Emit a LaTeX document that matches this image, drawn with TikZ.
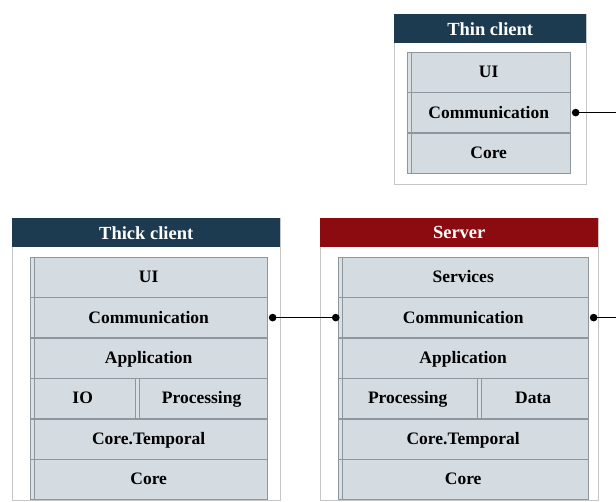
\documentclass[tikz,border=0pt]{standalone}
\usepackage{xcolor}
\usepackage{fontspec}
\setmainfont{Liberation Serif}
\usepackage{tikz}
\usetikzlibrary{positioning, arrows.meta}

\definecolor{headblue}{HTML}{1C3B50}
\definecolor{headred}{HTML}{8C0B10}
\definecolor{layerfill}{HTML}{D4DCE2}
\definecolor{layerline}{HTML}{8E979D}
\definecolor{panelline}{HTML}{C6C6C6}

\begin{document}
\begin{tikzpicture}[
   x=1pt, y=-1pt,
   node distance = 0pt,
   panel/.style = {draw=panelline, fill=white, rectangle, anchor=north west, inner sep=0pt},
   header/.style = {fill=#1, rectangle, anchor=north west, inner sep=0pt, minimum height=29pt, text=white, font=\fontsize{18.5}{22}\selectfont\bfseries},
   layer/.style = {draw=layerline, fill=layerfill, rectangle, inner sep=0pt, minimum height=40pt, text height=11pt, text depth=0pt, font=\fontsize{17.5}{20}\selectfont\bfseries,
      path picture={\fill[layerline!30] (path picture bounding box.north west) rectangle ([xshift=3.5pt]path picture bounding box.south west);
                    \draw[layerline] ([xshift=3.5pt]path picture bounding box.north west) -- ([xshift=3.5pt]path picture bounding box.south west);}},
   line/.style = {draw, line width=1.7pt}
   ]
  \useasboundingbox (0,0) rectangle (616,502);

  % Thin client
  \node[panel, minimum width=192pt, minimum height=170pt] (thinpanel) at (394,14) {};
  \node[header=headblue, minimum width=192pt] (thinhead) at (394,14) {Thin client};
  \node[layer, anchor=north west, minimum width=163pt] (thinui) at (407,52) {UI};
  \node[layer, below=of thinui, minimum width=163pt] (thincomm) {Communication};
  \node[layer, below=of thincomm, minimum width=163pt] (thincore) {Core};

  % Thick client
  \node[panel, minimum width=268pt, minimum height=282pt] (thickpanel) at (12,218) {};
  \node[header=headblue, minimum width=268pt] (thickhead) at (12,218) {Thick client};
  \node[layer, anchor=north west, minimum width=237pt] (thickui) at (30,257) {UI};
  \node[layer, below=of thickui, minimum width=237pt] (thickcomm) {Communication};
  \node[layer, below=of thickcomm, minimum width=237pt] (thickapp) {Application};
  \node[layer, below=of thickapp.south west, anchor=north west, minimum width=105pt] (thickio) {IO};
  \node[layer, right=of thickio, minimum width=132pt] (thickproc) {Processing};
  \node[layer, below=of thickio.south west, anchor=north west, minimum width=237pt] (thickcoret) {Core.Temporal};
  \node[layer, below=of thickcoret, minimum width=237pt] (thickcore) {Core};

  % Server
  \node[panel, minimum width=278pt, minimum height=282pt] (serverpanel) at (320,218) {};
  \node[header=headred, minimum width=278pt] (serverhead) at (320,218) {Server};
  \node[layer, anchor=north west, minimum width=250pt] (serverservices) at (338,257) {Services};
  \node[layer, below=of serverservices, minimum width=250pt] (servercomm) {Communication};
  \node[layer, below=of servercomm, minimum width=250pt] (serverapp) {Application};
  \node[layer, below=of serverapp.south west, anchor=north west, minimum width=139pt] (serverproc) {Processing};
  \node[layer, right=of serverproc, minimum width=111pt] (serverdata) {Data};
  \node[layer, below=of serverproc.south west, anchor=north west, minimum width=250pt] (servercoret) {Core.Temporal};
  \node[layer, below=of servercoret, minimum width=250pt] (servercore) {Core};

  % Links
  \coordinate[right=46pt of thincomm.east] (thinexit);
  \coordinate[right=28pt of servercomm.east] (serverexit);
  \draw[line, {Circle[length=7.5pt]}-] ([xshift=1.5pt]thincomm.east) -- (thinexit);
  \draw[line, {Circle[length=7.5pt]}-{Circle[length=7.5pt]}] ([xshift=1.5pt]thickcomm.east) -- ([xshift=1.5pt]servercomm.west);
  \draw[line, {Circle[length=7.5pt]}-] ([xshift=1.5pt]servercomm.east) -- (serverexit);
\end{tikzpicture}
\end{document}
